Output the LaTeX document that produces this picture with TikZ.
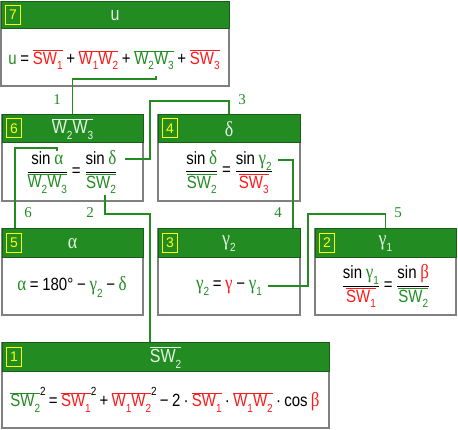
\documentclass[tikz,border=0pt]{standalone}
\usepackage{fontspec}
\setmainfont{Liberation Sans}
\newfontfamily\gk{Liberation Serif}
\usepackage{graphicx}
\definecolor{fg}{HTML}{228B22}
\definecolor{rd}{HTML}{FF1A1A}
\definecolor{hdrfill}{HTML}{228B22}
\definecolor{hdrline}{HTML}{175E17}
\definecolor{hdrtxt}{HTML}{E4F4E4}
\definecolor{bord}{HTML}{808080}
\definecolor{badgey}{HTML}{FFFF00}
\newcommand\lo[1]{\raisebox{-0.3em}{\normalfont\fontsize{10}{10}\selectfont #1}}
\newcommand\hi[1]{\raisebox{0.62em}{\normalfont\fontsize{10}{10}\selectfont #1}}
\newcommand\ov[2]{{\color{#1}$\overline{\hbox{#2}}$}}
\newcommand\G[2]{{\color{#1}\gk\fontsize{17}{19}\selectfont #2}}
\newcommand\hg[1]{{\gk\fontsize{18}{20}\selectfont #1}}
\newcommand\fr[2]{$\displaystyle\frac{\hbox{#1}}{\hbox{#2}}$}
\newcommand\st[1]{\scalebox{1}[1.18]{#1}}
\newcommand\fmfont{\fontsize{15}{18}\selectfont\spaceskip=3.7pt\relax}
\newcommand\fmfontb{\fontsize{15}{18}\selectfont\spaceskip=3.3pt\relax}
\tikzset{
  body/.style={draw=bord, line width=1.2pt, fill=white, inner sep=0pt},
  hdr/.style={draw=hdrline, line width=1pt, fill=hdrfill, inner sep=0pt, text=hdrtxt, anchor=north, font=\fontsize{16}{18}\selectfont},
  badge/.style={draw=badgey, line width=0.9pt, text=badgey, inner sep=0pt, minimum width=15pt, minimum height=19pt, font=\fontsize{14}{16}\selectfont},
  fm/.style={inner sep=0pt, font=\fmfont},
  fmb/.style={inner sep=0pt, font=\fmfontb},
  conn/.style={draw=fg, line width=1.6pt},
  clab/.style={text=fg, font=\gk\fontsize{15}{17}\selectfont, inner sep=0pt}
}
\begin{document}
\begin{tikzpicture}[x=1pt,y=-1pt]
\useasboundingbox (0,0) rectangle (458,430);
% boxes
\node[body, minimum width=228pt, minimum height=84pt] (b7) at (115,44) {};
\node[hdr, minimum width=228pt, minimum height=27pt] (h7) at (b7.north) {\st{u}};
\node[badge] (n7) at ([xshift=12.5pt,yshift=-13.5pt]h7.north west) {7};

\node[body, minimum width=141pt, minimum height=86pt] (b6) at (72.5,158) {};
\node[hdr, minimum width=141pt, minimum height=28pt] (h6) at (b6.north) {\st{\ov{hdrtxt}{W\lo2W\lo3}}};
\node[badge] (n6) at ([xshift=12.5pt,yshift=-14pt]h6.north west) {6};

\node[body, minimum width=142pt, minimum height=86pt] (b4) at (229,158) {};
\node[hdr, minimum width=142pt, minimum height=28pt] (h4) at (b4.north) {\st{\hg{δ}}};
\node[badge] (n4) at ([xshift=12.5pt,yshift=-14pt]h4.north west) {4};

\node[body, minimum width=141pt, minimum height=86pt] (b5) at (72.5,272) {};
\node[hdr, minimum width=141pt, minimum height=29pt] (h5) at (b5.north) {\st{\hg{α}}};
\node[badge] (n5) at ([xshift=12.5pt,yshift=-14.5pt]h5.north west) {5};

\node[body, minimum width=142pt, minimum height=86pt] (b3) at (229,272) {};
\node[hdr, minimum width=142pt, minimum height=29pt] (h3) at (b3.north) {\st{\hg{γ\lo2}}};
\node[badge] (n3) at ([xshift=12.5pt,yshift=-14.5pt]h3.north west) {3};

\node[body, minimum width=141pt, minimum height=86pt] (b2) at (385.5,272) {};
\node[hdr, minimum width=141pt, minimum height=29pt] (h2) at (b2.north) {\st{\hg{γ\lo1}}};
\node[badge] (n2) at ([xshift=12.5pt,yshift=-14.5pt]h2.north west) {2};

\node[body, minimum width=327pt, minimum height=85pt] (b1) at (165.5,385.5) {};
\node[hdr, minimum width=327pt, minimum height=29pt] (h1) at (b1.north) {\st{\ov{hdrtxt}{SW\lo2}}};
\node[badge] (n1) at ([xshift=12.5pt,yshift=-14.5pt]h1.north west) {1};

% formulas
\node[fm] (f7) at (114,60) {\st{{\color{fg}u} = \ov{rd}{SW\lo1} + \ov{rd}{W\lo1W\lo2} + \ov{fg}{W\lo2W\lo3} + \ov{rd}{SW\lo3}}};
\node[fm] (f6) at (72,172) {\st{\fr{sin \G{fg}{α}}{\ov{fg}{W\lo2W\lo3}} = \fr{sin \G{fg}{δ}}{\ov{fg}{SW\lo2}}}};
\node[fm] (f4) at (229,172) {\st{\fr{sin \G{fg}{δ}}{\ov{fg}{SW\lo2}} = \fr{sin \G{fg}{γ\lo2}}{\ov{rd}{SW\lo3}}}};
\node[fm] (f5) at (72,287) {\st{\G{fg}{α} = 180° − \G{fg}{γ\lo2} − \G{fg}{δ}}};
\node[fm] (f3) at (229,288) {\st{\G{fg}{γ\lo2} = \G{rd}{γ} − \G{fg}{γ\lo1}}};
\node[fm] (f2) at (386,286) {\st{\fr{sin \G{fg}{γ\lo1}}{\ov{rd}{SW\lo1}} = \fr{sin \G{rd}{β}}{\ov{fg}{SW\lo2}}}};
\node[fmb] (f1) at (165,400) {\st{\ov{fg}{SW\lo2}\hi2 = \ov{rd}{SW\lo1}\hi2 + \ov{rd}{W\lo1W\lo2}\hi2 − 2 · \ov{rd}{SW\lo1} · \ov{rd}{W\lo1W\lo2} · cos \G{rd}{β}}};

% connector anchors
\coordinate (s1) at (156,76);
\coordinate (s3) at (125,159);
\coordinate (s2) at (105,195);
\coordinate (s6) at (57,151);
\coordinate (s4) at (278,160);
\coordinate (s5) at (268,286);
\coordinate (k3) at (150,101);
\coordinate (k2) at (150,214);
\coordinate (k6) at (15,214);
\coordinate (k4) at (293,214);
\coordinate (k5) at (308,214);

\draw[conn] (s1) -- ++(0,3) -| (h6.north);
\draw[conn] (s3) -| (k3) -| (h4.north);
\draw[conn] (s2) |- (k2) -- (k2 |- h1.north);
\draw[conn] (s6) -- ++(0,-3) -| (k6 |- h5.north);
\draw[conn] (s4) -| (k4 |- h3.north);
\draw[conn] (s5) -| (k5) -| (h2.north);

% connector labels
\node[clab] (l1) at (57,100) {1};
\node[clab] (l3) at (242,100) {3};
\node[clab] (l6) at (28,213) {6};
\node[clab] (l2) at (90,213) {2};
\node[clab] (l4) at (278,213) {4};
\node[clab] (l5) at (398,213) {5};
\end{tikzpicture}
\end{document}
